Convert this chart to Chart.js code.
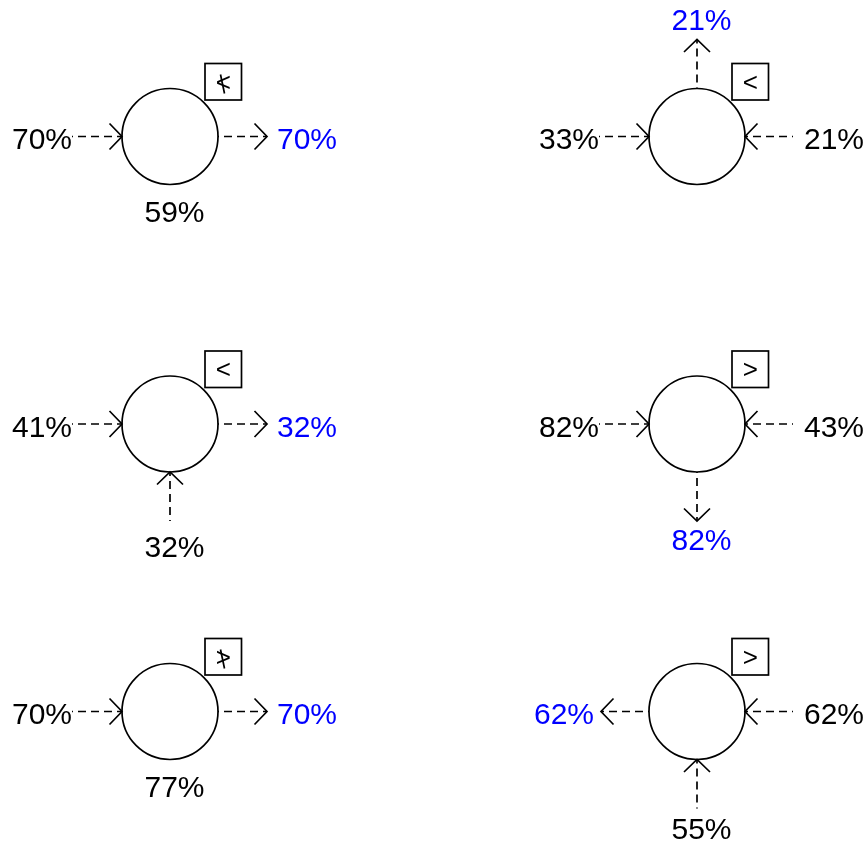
<!DOCTYPE html>
<html><head><meta charset="utf-8">
<script src="https://cdn.jsdelivr.net/npm/chart.js@4/dist/chart.umd.min.js"></script>
<style>html,body{margin:0;padding:0;background:#fff}#wrap{width:868px;height:842px;position:relative}</style>
</head><body><div id="wrap"><canvas id="c"></canvas></div>
<script>
// ---- data ----
const symbols   = ['≮', '<', '<', '>', '≯', '>'];
const leftVal   = [70, 33, 41, 82, 70, 62];
const leftDir   = ['in', 'in', 'in', 'in', 'in', 'out'];
const rightVal  = [70, 21, 32, 43, 70, 62];
const rightDir  = ['out', 'in', 'out', 'in', 'out', 'in'];
const topVal    = [null, 21, null, null, null, null];
const topDir    = [null, 'out', null, null, null, null];
const bottomVal = [59, null, 32, 82, 77, 55];
const bottomDir = ['label', null, 'in', 'out', 'label', 'in'];

// ---- layout ----
const W = 868, H = 842;
const colX = [170, 697];
const rowY = [136.5, 424, 711.5];
const R = 48;
const LW = 1.7;
const BLUE = '#0000ff';
const FONT = '30px "Liberation Sans", Arial, sans-serif';
function center(i) { return { x: colX[i % 2], y: rowY[Math.floor(i / 2)] }; }

function arrow(ctx, x1, y1, x2, y2) {
  ctx.save();
  ctx.strokeStyle = '#000';
  ctx.lineWidth = LW;
  ctx.setLineDash([8, 5]);
  ctx.lineDashOffset = 7;
  ctx.beginPath(); ctx.moveTo(x1, y1); ctx.lineTo(x2, y2); ctx.stroke();
  ctx.setLineDash([]);
  const a = Math.atan2(y2 - y1, x2 - x1);
  const back = 12.5, spread = 13;
  const bx = x2 - Math.cos(a) * back, by = y2 - Math.sin(a) * back;
  const px = -Math.sin(a) * spread, py = Math.cos(a) * spread;
  ctx.beginPath();
  ctx.moveTo(bx + px, by + py); ctx.lineTo(x2, y2); ctx.lineTo(bx - px, by - py);
  ctx.stroke();
  ctx.restore();
}
function label(ctx, text, x, y, align, color) {
  ctx.save();
  ctx.font = FONT;
  ctx.fillStyle = color;
  ctx.textAlign = align;
  ctx.textBaseline = 'alphabetic';
  ctx.fillText(text, x, y);
  ctx.restore();
}

const diagramPlugin = {
  id: 'diagram',
  afterDatasetsDraw(chart) {
    const ctx = chart.ctx;
    const xs = chart.scales.x, ys = chart.scales.y;
    symbols.forEach((sym, i) => {
      const c = center(i);
      const cx = xs.getPixelForValue(c.x), cy = ys.getPixelForValue(c.y);
      // comparator box
      ctx.save();
      ctx.strokeStyle = '#000'; ctx.lineWidth = LW;
      ctx.strokeRect(cx + 35, cy - 73, 36.5, 36.5);
      const negated = (sym === '≮' || sym === '≯');
      const base = sym === '≮' ? '<' : sym === '≯' ? '>' : sym;
      ctx.font = '26px "Liberation Sans", Arial, sans-serif';
      ctx.fillStyle = '#000'; ctx.textAlign = 'center'; ctx.textBaseline = 'middle';
      ctx.fillText(base, cx + 53.25, cy - 53);
      if (negated) {
        ctx.beginPath();
        ctx.moveTo(cx + 50.5, cy - 62);
        ctx.lineTo(cx + 54.5, cy - 43);
        ctx.stroke();
      }
      ctx.restore();
      // left
      if (leftVal[i] != null) {
        if (leftDir[i] === 'in') {
          arrow(ctx, cx - 98, cy, cx - R, cy);
          label(ctx, leftVal[i] + '%', cx - 98, cy + 12.7, 'right', '#000');
        } else {
          arrow(ctx, cx - R, cy, cx - 96, cy);
          label(ctx, leftVal[i] + '%', cx - 103, cy + 12.7, 'right', BLUE);
        }
      }
      // right
      if (rightVal[i] != null) {
        if (rightDir[i] === 'in') {
          arrow(ctx, cx + 96, cy, cx + R, cy);
          label(ctx, rightVal[i] + '%', cx + 107, cy + 12.7, 'left', '#000');
        } else {
          arrow(ctx, cx + R, cy, cx + 97, cy);
          label(ctx, rightVal[i] + '%', cx + 107, cy + 12.7, 'left', BLUE);
        }
      }
      // top
      if (topVal[i] != null) {
        if (topDir[i] === 'out') {
          arrow(ctx, cx, cy - R, cx, cy - 97);
          label(ctx, topVal[i] + '%', cx + 4.5, cy - 107, 'center', BLUE);
        } else {
          arrow(ctx, cx, cy - 97, cx, cy - R);
          label(ctx, topVal[i] + '%', cx + 4.5, cy - 107, 'center', '#000');
        }
      }
      // bottom
      if (bottomVal[i] != null) {
        if (bottomDir[i] === 'out') {
          arrow(ctx, cx, cy + R, cx, cy + 97);
          label(ctx, bottomVal[i] + '%', cx + 4.5, cy + 126, 'center', BLUE);
        } else if (bottomDir[i] === 'in') {
          arrow(ctx, cx, cy + 97, cx, cy + R);
          label(ctx, bottomVal[i] + '%', cx + 4.5, Math.min(cy + 133, H - 3), 'center', '#000');
        } else {
          label(ctx, bottomVal[i] + '%', cx + 4.5, cy + 85, 'center', '#000');
        }
      }
    });
  }
};

new Chart(document.getElementById('c'), {
  type: 'scatter',
  data: {
    datasets: [{
      data: symbols.map((s, i) => center(i)),
      pointRadius: R,
      pointHoverRadius: R,
      pointStyle: 'circle',
      borderColor: '#000',
      borderWidth: LW,
      backgroundColor: 'rgba(255,255,255,0)',
      clip: false
    }]
  },
  options: {
    responsive: true,
    maintainAspectRatio: false,
    animation: false,
    events: [],
    layout: { padding: 0, autoPadding: false },
    plugins: { legend: { display: false }, tooltip: { enabled: false } },
    scales: {
      x: { type: 'linear', min: 0, max: W, display: false },
      y: { type: 'linear', min: 0, max: H, reverse: true, display: false }
    }
  },
  plugins: [diagramPlugin]
});
</script>
</body></html>
